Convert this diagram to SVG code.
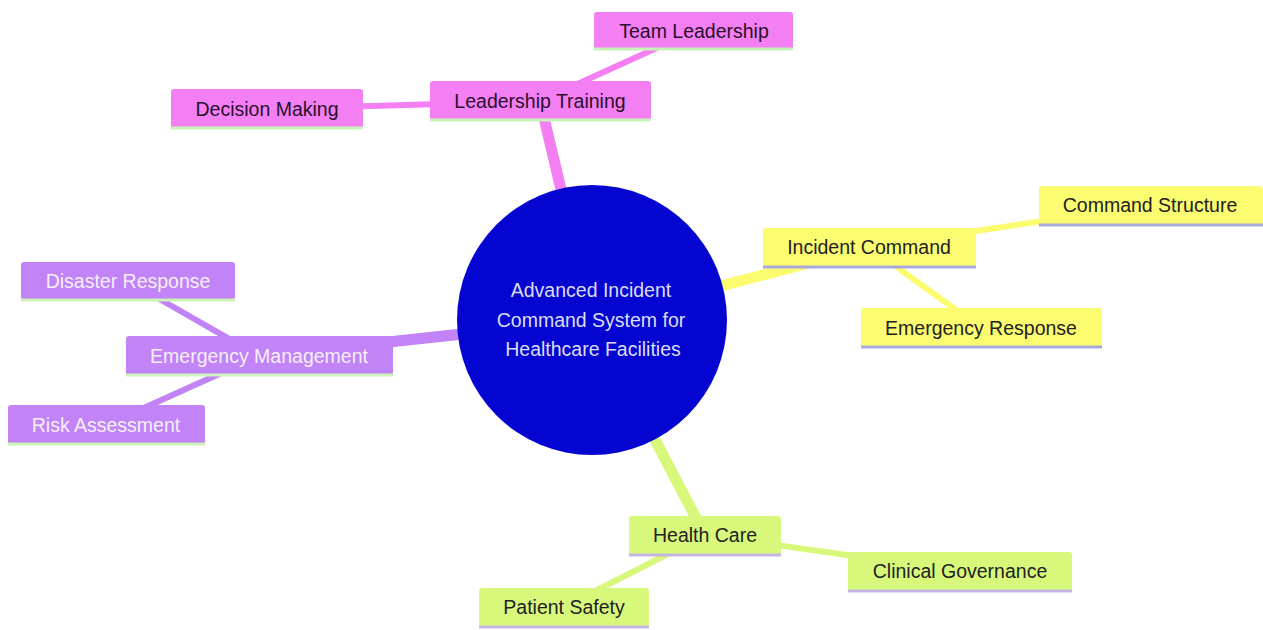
<svg xmlns="http://www.w3.org/2000/svg" width="1263" height="630" viewBox="0 0 1263 630">
<style>
text{font-family:"Liberation Sans",Arial,sans-serif;font-size:19.5px;text-anchor:middle;dominant-baseline:central}
.pk rect{fill:#f47ff3}.pk line{stroke:#c6f3b8}.pk text{fill:#2a0f2c}
.ye rect{fill:#fcfc70}.ye line{stroke:#a9a9dc}.ye text{fill:#222}
.pu rect{fill:#c183f6}.pu line{stroke:#cdf3b8}.pu text{fill:#f6effc}
.gr rect{fill:#d8f87c}.gr line{stroke:#c4b6e2}.gr text{fill:#222}
.n line{stroke-width:3}
.c line{stroke-linecap:butt}
</style>
<rect width="1263" height="630" fill="#fff"/>
<g id="connectors" class="c">
<line x1="592" y1="320" x2="540" y2="101" stroke="#f47ff3" stroke-width="11"/>
<line x1="540" y1="101" x2="694" y2="31" stroke="#f47ff3" stroke-width="6"/>
<line x1="540" y1="101" x2="267" y2="109" stroke="#f47ff3" stroke-width="6"/>
<line x1="592" y1="320" x2="869" y2="247" stroke="#fcfc70" stroke-width="11"/>
<line x1="869" y1="247" x2="1150" y2="205" stroke="#fcfc70" stroke-width="6"/>
<line x1="869" y1="247" x2="981" y2="328" stroke="#fcfc70" stroke-width="6"/>
<line x1="592" y1="320" x2="259" y2="356" stroke="#c183f6" stroke-width="11"/>
<line x1="259" y1="356" x2="128" y2="281" stroke="#c183f6" stroke-width="6"/>
<line x1="259" y1="356" x2="106" y2="425" stroke="#c183f6" stroke-width="6"/>
<line x1="592" y1="320" x2="705" y2="535" stroke="#d8f87c" stroke-width="11"/>
<line x1="705" y1="535" x2="960" y2="571" stroke="#d8f87c" stroke-width="6"/>
<line x1="705" y1="535" x2="564" y2="607" stroke="#d8f87c" stroke-width="6"/>
</g>
<g id="root">
<circle cx="592" cy="320" r="135" fill="#0505d2"/>
<text x="591" y="290" fill="#dcdcf6">Advanced Incident</text>
<text x="591" y="320" fill="#dcdcf6">Command System for</text>
<text x="593" y="349" fill="#dcdcf6">Healthcare Facilities</text>
</g>
<g id="leadership-training" class="n pk"><rect x="430" y="81" width="221" height="40" rx="3"/><line x1="430" y1="120" x2="651" y2="120"/><text x="540" y="101">Leadership Training</text></g>
<g id="team-leadership" class="n pk"><rect x="594" y="12" width="199" height="38" rx="3"/><line x1="594" y1="49" x2="793" y2="49"/><text x="694" y="31">Team Leadership</text></g>
<g id="decision-making" class="n pk"><rect x="171" y="89" width="192" height="40" rx="3"/><line x1="171" y1="128" x2="363" y2="128"/><text x="267" y="109">Decision Making</text></g>
<g id="incident-command" class="n ye"><rect x="763" y="228" width="213" height="40" rx="3"/><line x1="763" y1="267" x2="976" y2="267"/><text x="869" y="247">Incident Command</text></g>
<g id="command-structure" class="n ye"><rect x="1039" y="186" width="224" height="40" rx="3"/><line x1="1039" y1="225" x2="1263" y2="225"/><text x="1150" y="205">Command Structure</text></g>
<g id="emergency-response" class="n ye"><rect x="861" y="308" width="241" height="40" rx="3"/><line x1="861" y1="347" x2="1102" y2="347"/><text x="981" y="328">Emergency Response</text></g>
<g id="emergency-management" class="n pu"><rect x="126" y="336" width="267" height="40" rx="3"/><line x1="126" y1="375" x2="393" y2="375"/><text x="259" y="356">Emergency Management</text></g>
<g id="disaster-response" class="n pu"><rect x="21" y="262" width="214" height="39" rx="3"/><line x1="21" y1="300" x2="235" y2="300"/><text x="128" y="281">Disaster Response</text></g>
<g id="risk-assessment" class="n pu"><rect x="8" y="405" width="197" height="40" rx="3"/><line x1="8" y1="444" x2="205" y2="444"/><text x="106" y="425">Risk Assessment</text></g>
<g id="health-care" class="n gr"><rect x="629" y="516" width="152" height="40" rx="3"/><line x1="629" y1="555" x2="781" y2="555"/><text x="705" y="535">Health Care</text></g>
<g id="clinical-governance" class="n gr"><rect x="848" y="552" width="224" height="40" rx="3"/><line x1="848" y1="591" x2="1072" y2="591"/><text x="960" y="571">Clinical Governance</text></g>
<g id="patient-safety" class="n gr"><rect x="479" y="588" width="170" height="40" rx="3"/><line x1="479" y1="627" x2="649" y2="627"/><text x="564" y="607">Patient Safety</text></g>
</svg>
